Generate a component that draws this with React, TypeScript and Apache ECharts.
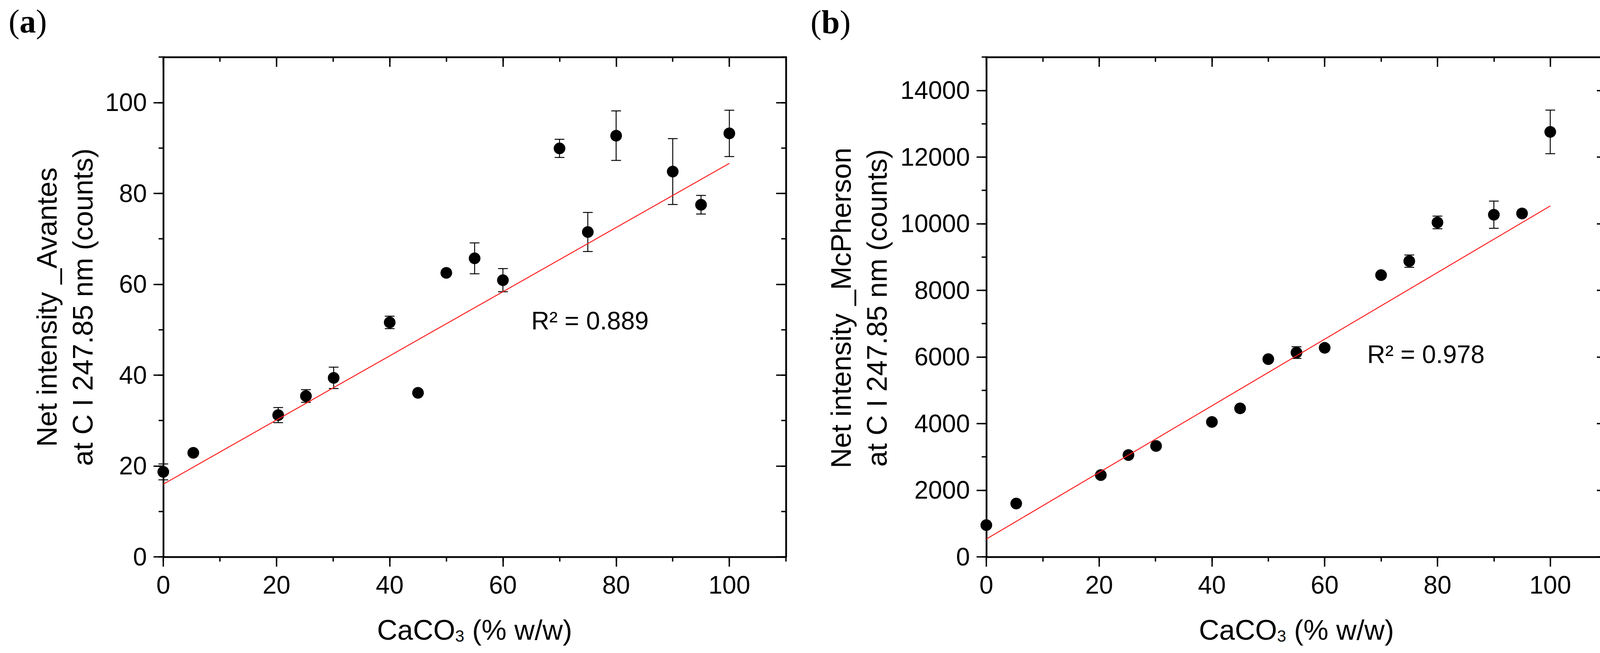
import React, { useEffect, useRef } from "react";
import * as echarts from "echarts";

// ---------------- data ----------------
const caco3 = [0, 5.3, 20.3, 25.2, 30.1, 40, 45, 50, 55, 60, 70, 75, 80, 90, 95, 100];

const avantesIntensity = [18.7, 22.9, 31.2, 35.4, 39.4, 51.6, 36.1, 62.5, 65.7, 60.9, 89.9, 71.5, 92.7, 84.8, 77.5, 93.2];
const avantesError = [1.75, 0.4, 1.66, 1.4, 2.35, 1.37, 0.4, 0.5, 3.4, 2.55, 2.0, 4.3, 5.45, 7.25, 2.05, 5.1];

const mcphersonIntensity = [953, 1601, 2454, 3055, 3328, 4050, 4458, 5933, 6131, 6273, 8457, 8875, 10037, 10269, 10307, 12754];
const mcphersonError = [40, 40, 50, 50, 50, 50, 50, 50, 175, 50, 50, 185, 190, 408, 50, 654];

const fitX = [0, 100];
const avantesFit = [16.0, 86.6];
const mcphersonFit = [534, 10532];

const xTickLabels = [0, 20, 40, 60, 80, 100];
const avantesTickLabels = [0, 20, 40, 60, 80, 100];
const mcphersonTickLabels = [0, 2000, 4000, 6000, 8000, 10000, 12000, 14000];

const avantesR2 = "R² = 0.889";
const mcphersonR2 = "R² = 0.978";
const avantesYTitle = "Net intensity _Avantes\nat C I 247.85 nm (counts)";
const mcphersonYTitle = "Net intensity _McPherson\nat C I 247.85 nm (counts)";

// ---------------- styling ----------------
const FONT = "'Liberation Sans', Arial, sans-serif";
const SERIF = "'Liberation Serif', 'Times New Roman', serif";
const AXIS_W = 4.5;
const TICK_W = 3.5;
const MAJOR_LEN = 25;
const MINOR_LEN = 12;
const tickLine = { color: "#000", width: TICK_W };
const plainNumber = (v: number) => String(v);

function xAxes(grid: number, minorGrid: number, max: number, ticks: number[], minorInterval: number) {
  const base = { type: "value", min: 0, max, interval: minorInterval, splitLine: { show: false } };
  return [
    {
      ...base, gridIndex: grid, position: "bottom",
      axisLine: { show: true, onZero: false, lineStyle: { color: "#000", width: AXIS_W } },
      axisTick: { show: true, customValues: ticks, length: MAJOR_LEN, lineStyle: tickLine },
      axisLabel: { show: true, customValues: ticks, formatter: plainNumber, margin: 40, fontSize: 64, color: "#000", fontFamily: FONT },
    },
    {
      ...base, gridIndex: grid, position: "top",
      axisLine: { show: true, onZero: false, lineStyle: { color: "#000", width: AXIS_W } },
      axisTick: { show: true, inside: true, customValues: ticks, length: MAJOR_LEN, lineStyle: tickLine },
      axisLabel: { show: false },
    },
    {
      ...base, gridIndex: minorGrid, position: "bottom",
      axisLine: { show: false, onZero: false },
      axisTick: { show: true, length: MINOR_LEN, lineStyle: tickLine },
      axisLabel: { show: false },
    },
    {
      ...base, gridIndex: minorGrid, position: "top",
      axisLine: { show: false, onZero: false },
      axisTick: { show: true, inside: true, length: MINOR_LEN, lineStyle: tickLine },
      axisLabel: { show: false },
    },
  ];
}

function yAxes(grid: number, minorGrid: number, max: number, ticks: number[], minorInterval: number) {
  const base = { type: "value", min: 0, max, interval: minorInterval, splitLine: { show: false } };
  return [
    {
      ...base, gridIndex: grid, position: "left",
      axisLine: { show: true, onZero: false, lineStyle: { color: "#000", width: AXIS_W } },
      axisTick: { show: true, customValues: ticks, length: MAJOR_LEN, lineStyle: tickLine },
      axisLabel: { show: true, customValues: ticks, formatter: plainNumber, margin: 42, fontSize: 64, color: "#000", fontFamily: FONT },
    },
    {
      ...base, gridIndex: grid, position: "right",
      axisLine: { show: true, onZero: false, lineStyle: { color: "#000", width: AXIS_W } },
      axisTick: { show: true, inside: true, customValues: ticks, length: MAJOR_LEN, lineStyle: tickLine },
      axisLabel: { show: false },
    },
    {
      ...base, gridIndex: minorGrid, position: "left",
      axisLine: { show: false, onZero: false },
      axisTick: { show: true, length: MINOR_LEN, lineStyle: tickLine },
      axisLabel: { show: false },
    },
    {
      ...base, gridIndex: minorGrid, position: "right",
      axisLine: { show: false, onZero: false },
      axisTick: { show: true, inside: true, length: MINOR_LEN, lineStyle: tickLine },
      axisLabel: { show: false },
    },
  ];
}

function panelSeries(axisIndex: number, ys: number[], errs: number[], fit: number[]) {
  return [
    {
      type: "custom",
      xAxisIndex: axisIndex,
      yAxisIndex: axisIndex,
      silent: true,
      z: 2,
      data: caco3.map((x, i) => [x, ys[i], errs[i]]),
      encode: { x: 0, y: 1 },
      renderItem: (_params: any, api: any) => {
        const x = api.value(0);
        const y = api.value(1);
        const e = api.value(2);
        const p1 = api.coord([x, y + e]);
        const p2 = api.coord([x, y - e]);
        const h = 12.5;
        const st = { stroke: "#000", lineWidth: 2.4 };
        return {
          type: "group",
          children: [
            { type: "line", shape: { x1: p1[0], y1: p1[1], x2: p2[0], y2: p2[1] }, style: st },
            { type: "line", shape: { x1: p1[0] - h, y1: p1[1], x2: p1[0] + h, y2: p1[1] }, style: st },
            { type: "line", shape: { x1: p2[0] - h, y1: p2[1], x2: p2[0] + h, y2: p2[1] }, style: st },
          ],
        };
      },
    },
    {
      type: "scatter",
      xAxisIndex: axisIndex,
      yAxisIndex: axisIndex,
      z: 3,
      symbol: "circle",
      symbolSize: 30,
      itemStyle: { color: "#000", opacity: 1 },
      data: caco3.map((x, i) => [x, ys[i]]),
    },
    {
      type: "line",
      xAxisIndex: axisIndex,
      yAxisIndex: axisIndex,
      z: 4,
      symbol: "none",
      showSymbol: false,
      lineStyle: { color: "#ff1a1a", width: 2.4 },
      data: fitX.map((x, i) => [x, fit[i]]),
    },
  ];
}

function panelLabel(x: number, y: number, letter: string) {
  return {
    type: "text",
    x,
    y,
    style: {
      text: `{p|(}{b|${letter}}{p|)}`,
      align: "left",
      verticalAlign: "middle",
      rich: {
        p: { fontFamily: SERIF, fontSize: 84, fontWeight: "normal", fill: "#000", color: "#000" },
        b: { fontFamily: SERIF, fontSize: 84, fontWeight: "bold", fill: "#000", color: "#000" },
      },
    },
  };
}

function xTitle(cx: number) {
  return {
    type: "text",
    x: cx,
    y: 1608,
    style: {
      text: "{m|CaCO}{s|3}{m| (% w/w)}",
      align: "center",
      verticalAlign: "middle",
      rich: {
        m: { fontFamily: FONT, fontSize: 72, lineHeight: 80, verticalAlign: "bottom", color: "#000", fill: "#000" },
        s: { fontFamily: FONT, fontSize: 42, lineHeight: 66, verticalAlign: "bottom", color: "#000", fill: "#000" },
      },
    },
  };
}

function yTitle(cx: number, cy: number, text: string) {
  return {
    type: "text",
    x: cx,
    y: cy,
    rotation: Math.PI / 2,
    style: {
      text,
      fontFamily: FONT,
      fontSize: 72,
      lineHeight: 92,
      align: "center",
      verticalAlign: "middle",
      fill: "#000",
    },
  };
}

function r2Text(x: number, y: number, text: string) {
  return {
    type: "text",
    x,
    y,
    style: { text, fontFamily: FONT, fontSize: 64, align: "left", verticalAlign: "middle", fill: "#000" },
  };
}

export default function App() {
  const ref = useRef<HTMLDivElement>(null);

  useEffect(() => {
    if (!ref.current) return;
    const chart = echarts.init(ref.current, undefined, { renderer: "svg" });
    const gridA = { left: 418, top: 146, width: 1594, height: 1279 };
    const gridB = { left: 2525, top: 146, width: 1588, height: 1279 };
    const option: any = {
      animation: false,
      backgroundColor: "#fff",
      grid: [gridA, { ...gridA }, gridB, { ...gridB }],
      xAxis: [
        ...xAxes(0, 1, 110, xTickLabels, 10),
        ...xAxes(2, 3, 110, xTickLabels, 10),
      ],
      yAxis: [
        ...yAxes(0, 1, 110, avantesTickLabels, 10),
        ...yAxes(2, 3, 15000, mcphersonTickLabels, 1000),
      ],
      series: [
        ...panelSeries(0, avantesIntensity, avantesError, avantesFit),
        ...panelSeries(4, mcphersonIntensity, mcphersonError, mcphersonFit),
      ],
      graphic: [
        panelLabel(22, 54, "a"),
        panelLabel(2075, 56, "b"),
        yTitle(166, 786, avantesYTitle),
        yTitle(2199, 788, mcphersonYTitle),
        xTitle(1215),
        xTitle(3319),
        r2Text(1360, 821, avantesR2),
        r2Text(3500, 907, mcphersonR2),
      ],
    };
    chart.setOption(option);
    return () => {
      chart.dispose();
    };
  }, []);

  return (
    <div
      ref={ref}
      style={{ position: "fixed", left: 0, top: 0, width: 4140, height: 1671, background: "#fff" }}
    />
  );
}
